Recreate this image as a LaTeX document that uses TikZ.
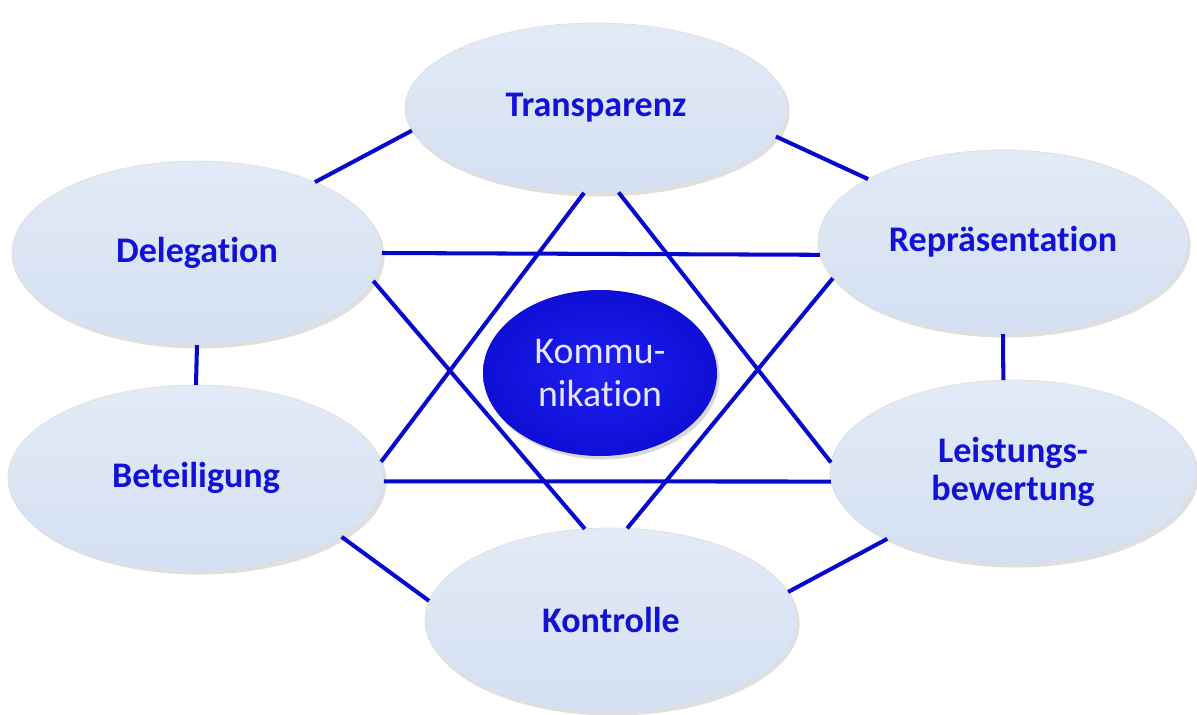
\documentclass[tikz,border=0pt]{standalone}
\usepackage{fontspec}
\setmainfont{Carlito}[Ligatures=NoCommon]
\usetikzlibrary{shapes.geometric,shadows}

\definecolor{linkblue}{RGB}{8,8,205}
\definecolor{textblue}{RGB}{18,18,215}
\definecolor{bubbletop}{RGB}{226,234,246}
\definecolor{bubblemid}{RGB}{198,214,236}
\definecolor{bubblebot}{RGB}{212,224,242}
\definecolor{hubin}{RGB}{32,32,242}
\definecolor{hubout}{RGB}{14,14,214}

\begin{document}
\begin{tikzpicture}[line width=2.3pt]
  \tikzstyle{topic}=[ellipse, inner sep=0pt, outer sep=0pt, align=center,
                     draw=gray!25, line width=0.4pt,
                     top color=bubbletop, middle color=bubblemid, bottom color=bubblebot,
                     text=textblue, font=\fontsize{20.5}{21.5}\selectfont\bfseries,
                     drop shadow={opacity=0.25, shadow xshift=1.5pt, shadow yshift=-2pt}]
  \tikzstyle{hub}=[ellipse, inner sep=0pt, outer sep=0pt, align=center,
                   inner color=hubin, outer color=hubout,
                   text=white!90!blue, font=\fontsize{21.5}{24.5}\selectfont,
                   drop shadow={opacity=0.3, shadow xshift=1.5pt, shadow yshift=-2pt}]
  \tikzstyle{link}=[draw=linkblue, line width=2.3pt]

  \useasboundingbox (-12.00,-6.82) rectangle (11.94,7.46);

  % centre and the six topics around it
  \node[hub, minimum width=4.68cm, minimum height=3.32cm] (KOM) at (0,0) {Kommu-\\nikation};

  \node[topic, minimum width=7.64cm, minimum height=3.40cm] (T) at (-0.08, 5.30) {Transparenz};
  \node[topic, minimum width=7.40cm, minimum height=3.68cm] (D) at (-8.06, 2.40) {Delegation};
  \node[topic, minimum width=7.40cm, minimum height=3.68cm] (R) at ( 8.06, 2.62) {Repräsentation};
  \node[topic, minimum width=7.52cm, minimum height=3.72cm] (B) at (-8.08,-2.10) {Beteiligung};
  \node[topic, minimum width=7.32cm, minimum height=3.68cm] (L) at ( 8.26,-1.98) {Leistungs-\\bewertung};
  \node[topic, minimum width=7.44cm, minimum height=3.68cm] (K) at ( 0.22,-4.94) {Kontrolle};

  % outer ring
  \draw[link] (T.187) -- (D.31)
              (T.-9)  -- (R.155)
              (D.south) -- (B.north)
              (R.-90) -- (L.96)
              (B.-22.6) -- (K.174)
              (K.9.5) -- (L.208.5);

  % two triangles
  \draw[link] (T.-98.5) -- (B.5)
              (T.-75.2) -- (L.177.8)
              (B.-1.5) -- (L.183.5);
  \draw[link] (D.0) -- (R.184)
              (D.-9.4) -- (K.106.8)
              (R.192.6) -- (K.80.2);
\end{tikzpicture}
\end{document}
